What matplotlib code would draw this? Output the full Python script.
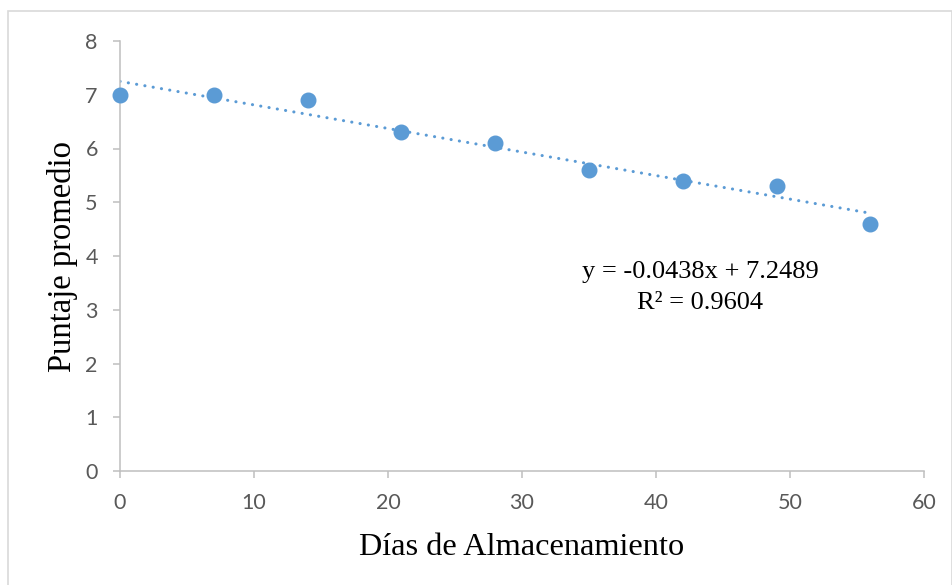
"""Puntaje promedio vs días de almacenamiento, con línea de tendencia."""
import matplotlib
matplotlib.use("Agg")
import matplotlib.pyplot as plt
import numpy as np
from matplotlib.patches import Rectangle

# ── Data ──────────────────────────────────────────────────────────────────────
dias = [0, 7, 14, 21, 28, 35, 42, 49, 56]
puntaje = [7.0, 7.0, 6.9, 6.3, 6.1, 5.6, 5.4, 5.3, 4.6]
x_ticks = [0, 10, 20, 30, 40, 50, 60]
y_ticks = [0, 1, 2, 3, 4, 5, 6, 7, 8]

# ── Palette ───────────────────────────────────────────────────────────────────
BLUE = "#5B9BD5"
AXIS = "#BFBFBF"
TICK_TXT = "#595959"
SERIF = "Liberation Serif"
SANS = "Lato"

fig = plt.figure(figsize=(9.53, 5.85), dpi=100)
fig.patch.set_facecolor("white")
ax = fig.add_axes([120 / 953, 1 - 471 / 585, 804 / 953, 430 / 585])

# outer chart border
fig.patches.append(Rectangle((8 / 953, -0.01), 944 / 953, 1 - 11 / 585 + 0.01,
                             transform=fig.transFigure, fill=False,
                             edgecolor="#D9D9D9", linewidth=1.2))

# linear trendline through the library's least-squares fit
slope, intercept = np.polyfit(dias, puntaje, 1)
pred = np.polyval([slope, intercept], dias)
r2 = 1 - np.sum((np.array(puntaje) - pred) ** 2) / np.sum((np.array(puntaje) - np.mean(puntaje)) ** 2)
xs = np.array([dias[0], dias[-1]])
ax.plot(xs, slope * xs + intercept, color=BLUE, linewidth=2.2,
        linestyle=(0, (0.05, 2.7)), dash_capstyle="round", zorder=2)

ax.plot(dias, puntaje, "o", color=BLUE, markersize=10.5, zorder=3, clip_on=False)

ax.set_xlim(0, 60)
ax.set_ylim(0, 8)
ax.set_xticks(x_ticks)
ax.set_yticks(y_ticks)

for side in ("top", "right"):
    ax.spines[side].set_visible(False)
for side in ("left", "bottom"):
    ax.spines[side].set_color(AXIS)
    ax.spines[side].set_linewidth(1.1)
ax.tick_params(axis="both", direction="out", length=5, width=1.1, color=AXIS,
               labelcolor=TICK_TXT, labelsize=15.5)
ax.tick_params(axis="y", pad=11)
ax.tick_params(axis="x", pad=11)
for label in ax.get_xticklabels() + ax.get_yticklabels():
    label.set_fontfamily(SANS)

ax.set_xlabel("Días de Almacenamiento", fontfamily=SERIF, fontsize=23.3, color="black", labelpad=14)
ax.set_ylabel("Puntaje promedio", fontfamily=SERIF, fontsize=23.5, color="black", labelpad=5)

ax.text(700 / 953, 1 - 272 / 585, f"y = {slope:.4f}x + {intercept:.4f}",
        transform=fig.transFigure, ha="center", va="center",
        fontfamily=SERIF, fontsize=19, color="black")
ax.text(700 / 953, 1 - 303 / 585, f"R² = {r2:.4f}",
        transform=fig.transFigure, ha="center", va="center",
        fontfamily=SERIF, fontsize=19, color="black")

fig.savefig("out.png", dpi=100)
